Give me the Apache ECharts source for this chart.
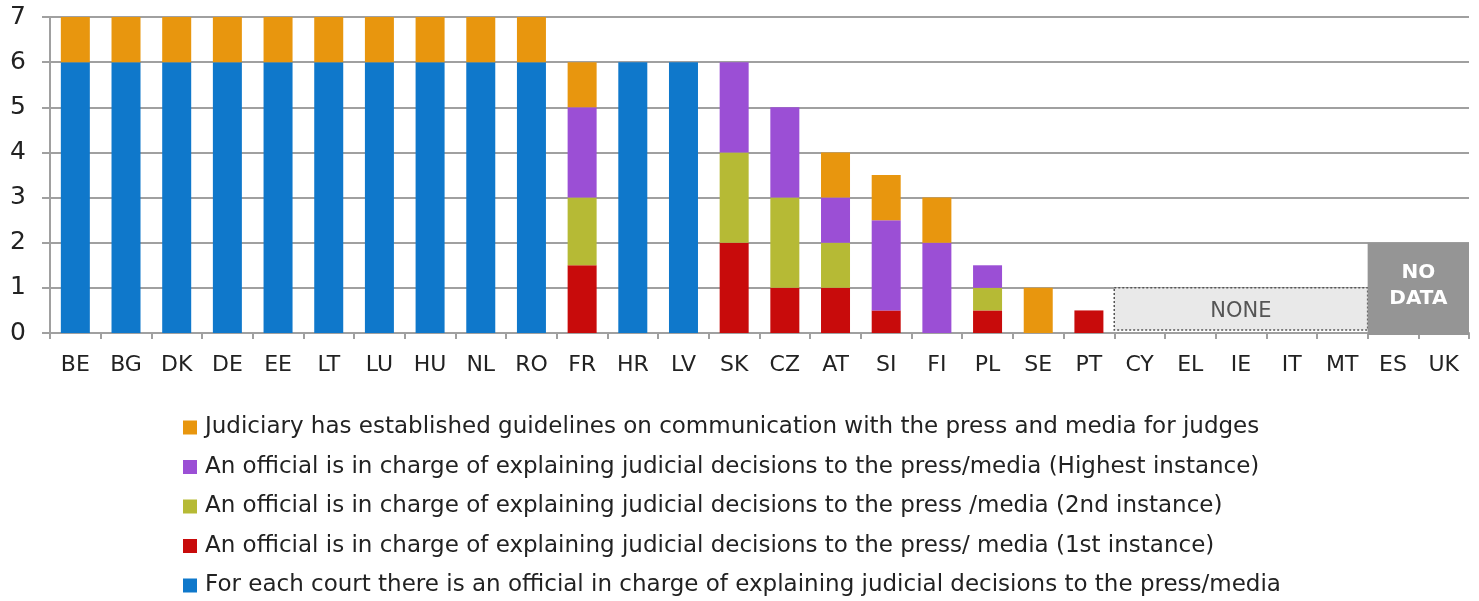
<!DOCTYPE html>
<html><head><meta charset="utf-8">
<script src="https://cdn.jsdelivr.net/npm/echarts@6/dist/echarts.min.js"></script>
<style>html,body{margin:0;padding:0;background:#fff}#c{width:1479px;height:601px}</style>
</head><body><div id="c"></div>
<script>
const categories = ['BE','BG','DK','DE','EE','LT','LU','HU','NL','RO','FR','HR','LV','SK','CZ','AT','SI','FI','PL','SE','PT','CY','EL','IE','IT','MT','ES','UK'];
const yTicks = [0,1,2,3,4,5,6,7];
const eachCourt   = [6,6,6,6,6,6,6,6,6,6,0,6,6,0,0,0,0,0,0,0,0,0,0,0,0,0,0,0];
const first       = [0,0,0,0,0,0,0,0,0,0,1.5,0,0,2,1,1,0.5,0,0.5,0,0.5,0,0,0,0,0,0,0];
const second      = [0,0,0,0,0,0,0,0,0,0,1.5,0,0,2,2,1,0,0,0.5,0,0,0,0,0,0,0,0,0];
const highest     = [0,0,0,0,0,0,0,0,0,0,2,0,0,2,2,1,2,2,0.5,0,0,0,0,0,0,0,0,0];
const guidelines  = [1,1,1,1,1,1,1,1,1,1,1,0,0,0,0,1,1,1,0,1,0,0,0,0,0,0,0,0];
const names = {
  guidelines: 'Judiciary has established guidelines on communication with the press and media for judges',
  highest: 'An official is in charge of explaining judicial decisions to the press/media (Highest instance)',
  second: 'An official is in charge of explaining judicial decisions to the press /media (2nd instance)',
  first: 'An official is in charge of explaining judicial decisions to the press/ media (1st instance)',
  eachCourt: 'For each court there is an official in charge of explaining judicial decisions to the press/media'
};
// boxes: [from category, to category, height, label, kind]
const boxes = [['CY','MT',1,'NONE','none'],['ES','UK',2,'NO\nDATA','nodata']];
</script>
<script>
const colors = {eachCourt:'#0f78cb', first:'#c80b0b', second:'#b6ba35', highest:'#9b4fd5', guidelines:'#e8960e'};
const FONT = 'DejaVu Sans';
function bar(key, data){
  return {name:names[key], type:'bar', stack:'s', data:data.map(v=>v===0?null:v), barWidth:29,
    itemStyle:{color:colors[key]}, emphasis:{disabled:true}};
}
const boxData = boxes.map(b=>[categories.indexOf(b[0]), categories.indexOf(b[1]), b[2], b[3], b[4]]);
const chart = echarts.init(document.getElementById('c'));
chart.setOption({
  animation:false,
  textStyle:{fontFamily:FONT},
  grid:{left:50,right:10,top:17,bottom:268,containLabel:false},
  legend:{
    orient:'vertical', left:183, top:416, padding:0, itemGap:16.5, itemWidth:14, itemHeight:14,
    icon:'rect', selectedMode:false,
    textStyle:{fontSize:23, lineHeight:23, color:'#222', fontFamily:FONT, padding:[0,0,0,3]},
    data:[names.guidelines, names.highest, names.second, names.first, names.eachCourt]
  },
  xAxis:{type:'category', data:categories,
    axisLine:{lineStyle:{color:'#a0a0a0', width:2}},
    axisTick:{show:true, alignWithLabel:false, length:6, lineStyle:{color:'#a0a0a0', width:2}},
    axisLabel:{fontSize:22, color:'#222', margin:21, interval:0}},
  yAxis:{type:'value', min:0, max:7, interval:1,
    axisLine:{show:true, lineStyle:{color:'#a0a0a0', width:2}},
    axisTick:{show:true, length:8, lineStyle:{color:'#a0a0a0', width:2}},
    axisLabel:{fontSize:25, color:'#222', margin:24, formatter:v=>yTicks.includes(v)?String(v):''},
    splitLine:{lineStyle:{color:'#a0a0a0', width:2}}},
  series:[
    bar('eachCourt', eachCourt),
    bar('first', first),
    bar('second', second),
    bar('highest', highest),
    bar('guidelines', guidelines),
    {type:'custom', data:boxData, encode:{x:0, y:2}, z:5, silent:true,
     renderItem:function(params, api){
       const bw = api.size([1,0])[0];
       const a = api.coord([api.value(0), 0]);
       const b = api.coord([api.value(1), api.value(2)]);
       const x0 = a[0]-bw/2, x1 = b[0]+bw/2;
       const y0 = a[1], y1 = b[1];
       const kind = boxData[params.dataIndex][4];
       const label = boxData[params.dataIndex][3];
       if(kind==='none'){
         return {type:'group', children:[
           {type:'rect', shape:{x:x0, y:y1, width:x1-x0, height:y0-y1-3},
            style:{fill:'#e9e9e9', stroke:'#555', lineWidth:1.5, lineDash:[2,2]}},
           {type:'text', style:{x:(x0+x1)/2, y:(y0+y1)/2+1, text:label, fill:'#555', font:'21px '+FONT, align:'center', verticalAlign:'middle'}}
         ]};
       }
       return {type:'group', children:[
         {type:'rect', shape:{x:x0, y:y1, width:x1-x0, height:y0-y1+2}, style:{fill:'#959595'}},
         {type:'text', style:{x:(x0+x1)/2, y:(y0+y1)/2-2, text:label, fill:'#fff', font:'bold 20px '+FONT, align:'center', verticalAlign:'middle', lineHeight:26}}
       ]};
     }}
  ]
});
</script></body></html>
